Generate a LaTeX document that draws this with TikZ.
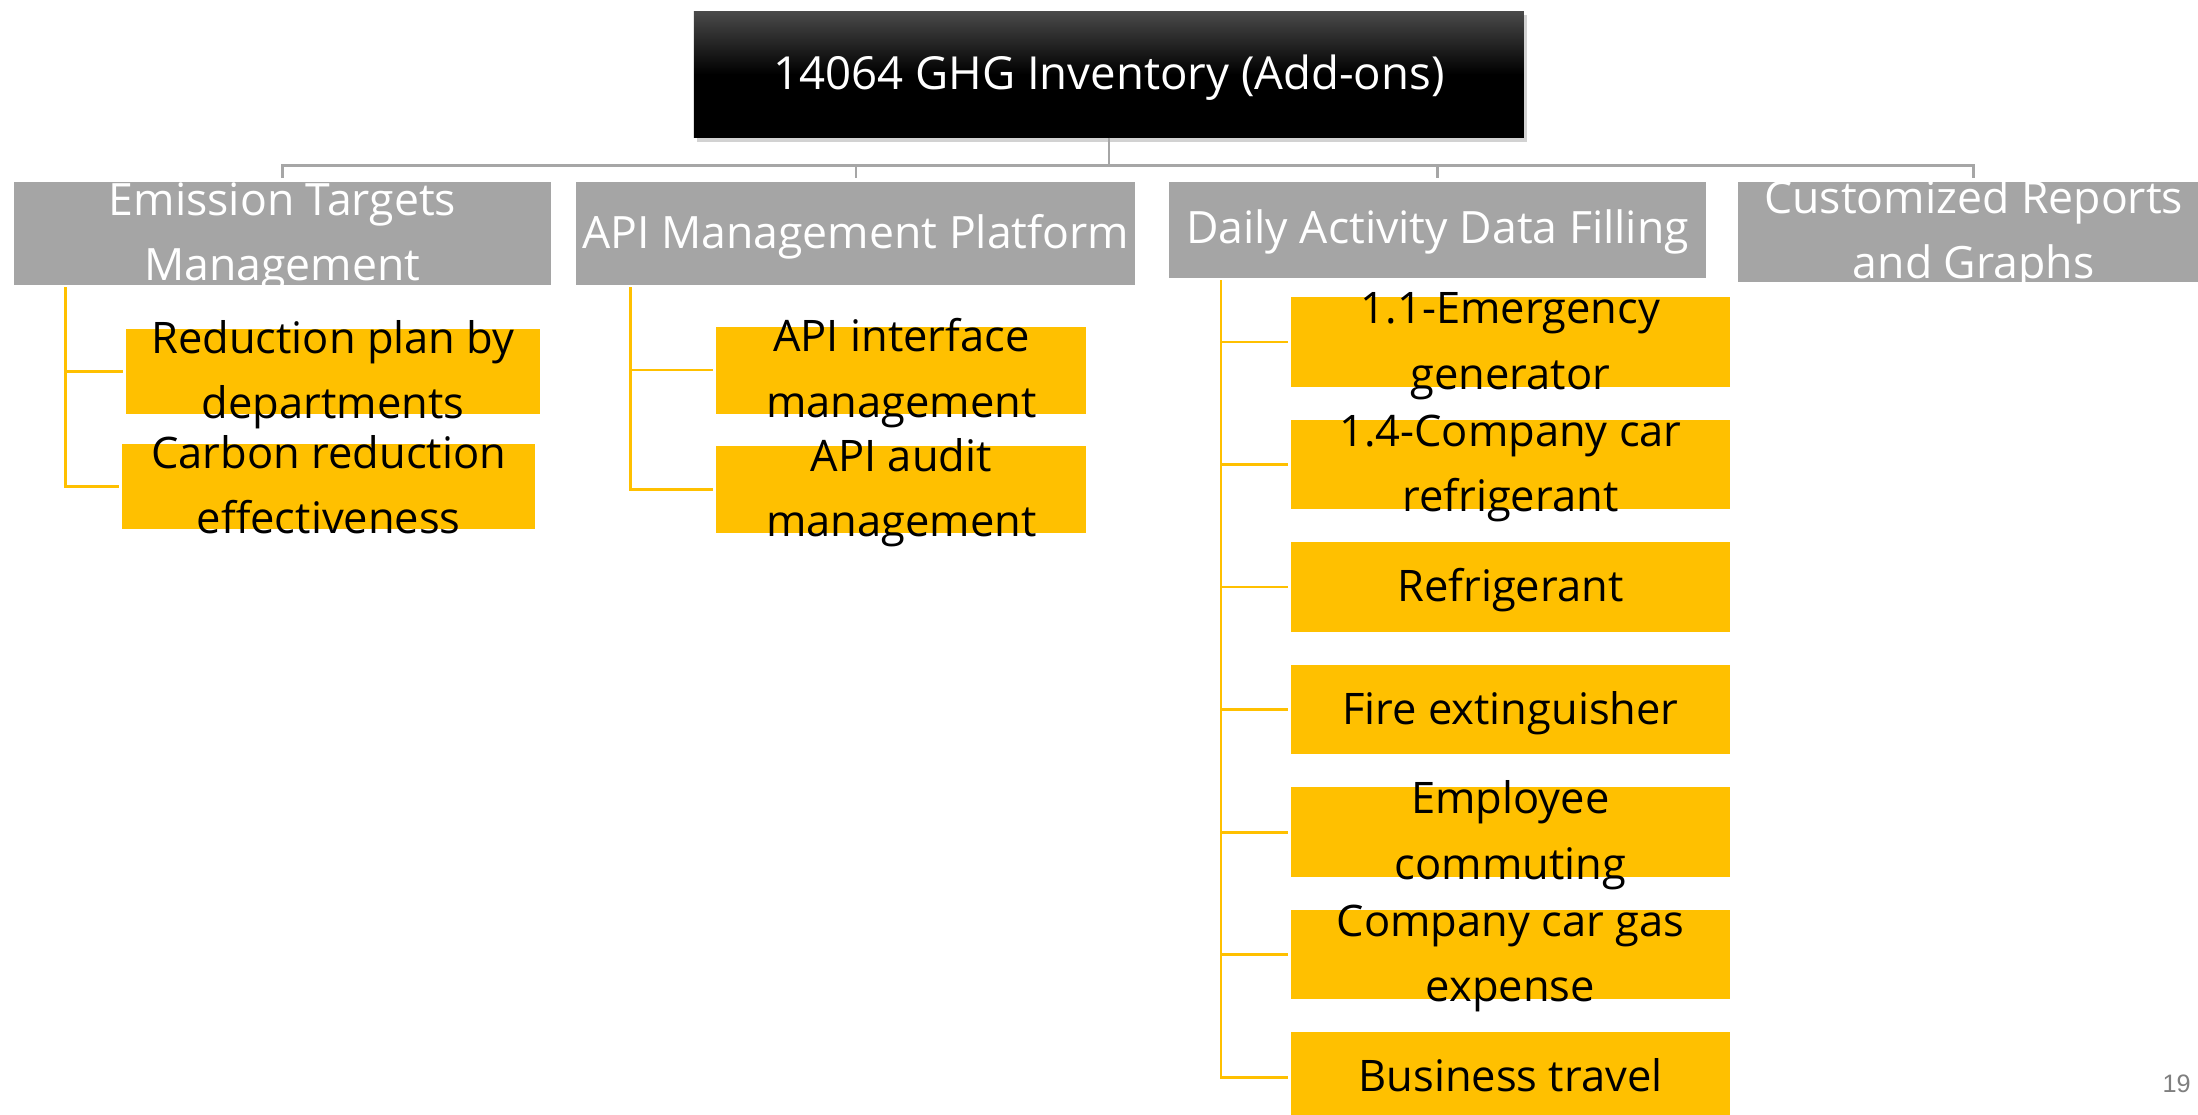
\documentclass[tikz,border=0pt]{standalone}
\usepackage{fontspec}
\setmainfont{Open Sans}
\newfontfamily\pagefont{Liberation Sans}
\usetikzlibrary{shadows}
\definecolor{hdrgrey}{HTML}{A5A5A5}
\definecolor{busgrey}{HTML}{A6A6A6}
\definecolor{goldbox}{HTML}{FFC000}
\definecolor{topgrey}{HTML}{4A4A4A}
\definecolor{pagegrey}{HTML}{7F7F7F}
\begin{document}
\begin{tikzpicture}[x=1bp,y=-1bp,
  txt/.style={anchor=base, inner sep=0, font=\fontsize{31bp}{46.5bp}\selectfont},
  wtxt/.style={txt, text=white, font=\fontsize{31.8bp}{46.5bp}\selectfont},
  btxt/.style={txt, text=black},
  hdrbox/.style={fill=hdrgrey, inner sep=0},
  leaf/.style={fill=goldbox, inner sep=0},
  gline/.style={draw=busgrey, line width=1.8bp},
  yline/.style={draw=goldbox, line width=2bp},
]
\useasboundingbox (0,0) rectangle (1568,795);
\fill[white] (0,0) rectangle (1568,795);

% title
\node[minimum width=592bp, minimum height=90bp, inner sep=0,
      top color=topgrey, bottom color=black, middle color=black,
      drop shadow={shadow xshift=2bp, shadow yshift=-3bp, opacity=0.35}] (T) at (791,53) {};
\node[wtxt, font=\fontsize{32.5bp}{46.5bp}\selectfont] (Tt) at ([yshift=-11bp]T.center) {14064 GHG Inventory (Add-ons)};

% headers
\node[hdrbox, minimum width=383bp, minimum height=73bp] (E) at (201.5,166.5) {};
\node[hdrbox, minimum width=399bp, minimum height=73bp] (A) at (610.5,166.5) {};
\node[hdrbox, minimum width=383bp, minimum height=68bp] (D) at (1025.5,164) {};
\node[hdrbox, minimum width=336bp, minimum height=71bp] (C) at (1408,165.5) {};

\node[wtxt] (Et1) at ([yshift=13bp]E.center) {Emission Targets};
\node[wtxt] (Et2) at ([yshift=-33.5bp]E.center) {Management};
\node[wtxt] (At) at ([yshift=-11bp]A.center) {API Management Platform};
\node[wtxt] (Dt) at ([yshift=-9.5bp]D.center) {Daily Activity Data Filling};
\node[wtxt] (Ct1) at ([yshift=13bp]C.center) {Customized Reports};
\node[wtxt] (Ct2) at ([yshift=-33.5bp]C.center) {and Graphs};

% grey connectors
\coordinate (bus) at (791,118);
\draw[gline] (T.south) -- (bus);
\draw[gline] (bus) -| ([yshift=2.5bp]E.north);
\draw[gline] (bus) -| ([yshift=2.5bp]A.north);
\draw[gline] (bus) -| ([yshift=2.5bp]D.north);
\draw[gline] (bus) -| ([yshift=2.5bp]C.north);

% column 1 leaves
\node[leaf, minimum width=295bp, minimum height=61bp] (r1) at (237.5,265) {};
\node[leaf, minimum width=295bp, minimum height=61bp] (r2) at (234.5,347) {};
\node[btxt] (r1t1) at ([yshift=13bp]r1.center) {Reduction plan by};
\node[btxt] (r1t2) at ([yshift=-33.5bp]r1.center) {departments};
\node[btxt] (r2t1) at ([yshift=13bp]r2.center) {Carbon reduction};
\node[btxt] (r2t2) at ([yshift=-33.5bp]r2.center) {effectiveness};
\coordinate (e0) at (47,205);
\draw[yline] (e0) |- ([xshift=-2bp]r1.west);
\draw[yline] (e0) |- ([xshift=-2bp]r2.west);

% column 2 leaves
\node[leaf, minimum width=264bp, minimum height=62bp] (a1) at (643,264) {};
\node[leaf, minimum width=264bp, minimum height=62bp] (a2) at (643,349) {};
\node[btxt] (a1t1) at ([yshift=13bp]a1.center) {API interface};
\node[btxt] (a1t2) at ([yshift=-33.5bp]a1.center) {management};
\node[btxt] (a2t1) at ([yshift=13bp]a2.center) {API audit};
\node[btxt] (a2t2) at ([yshift=-33.5bp]a2.center) {management};
\coordinate (a0) at (450,205);
\draw[yline] (a0) |- ([xshift=-2bp]a1.west);
\draw[yline] (a0) |- ([xshift=-2bp]a2.west);

% column 3 leaves
\foreach \n/\y in {1/244,2/331.4,3/418.8,4/506.2,5/593.6,6/681,7/768.4}{
  \node[leaf, minimum width=313bp, minimum height=64bp] (d\n) at (1077.5,\y) {};
}
\node[btxt] (d1t1) at ([yshift=13bp]d1.center) {1.1-Emergency};
\node[btxt] (d1t2) at ([yshift=-33.5bp]d1.center) {generator};
\node[btxt] (d2t1) at ([yshift=13bp]d2.center) {1.4-Company car};
\node[btxt] (d2t2) at ([yshift=-33.5bp]d2.center) {refrigerant};
\node[btxt] (d3t) at ([yshift=-10.5bp]d3.center) {Refrigerant};
\node[btxt] (d4t) at ([yshift=-10.5bp]d4.center) {Fire extinguisher};
\node[btxt] (d5t1) at ([yshift=13bp]d5.center) {Employee};
\node[btxt] (d5t2) at ([yshift=-33.5bp]d5.center) {commuting};
\node[btxt] (d6t1) at ([yshift=13bp]d6.center) {Company car gas};
\node[btxt] (d6t2) at ([yshift=-33.5bp]d6.center) {expense};
\node[btxt] (d7t) at ([yshift=-10.5bp]d7.center) {Business travel};
\coordinate (d0) at (871,200);
\foreach \n in {1,...,7}{
  \draw[yline] (d0) |- ([xshift=-2bp]d\n.west);
}

% page number
\node[anchor=base east, inner sep=0, font=\pagefont\fontsize{18bp}{20bp}\selectfont, text=pagegrey] (pg) at (1563,779) {19};
\end{tikzpicture}
\end{document}
